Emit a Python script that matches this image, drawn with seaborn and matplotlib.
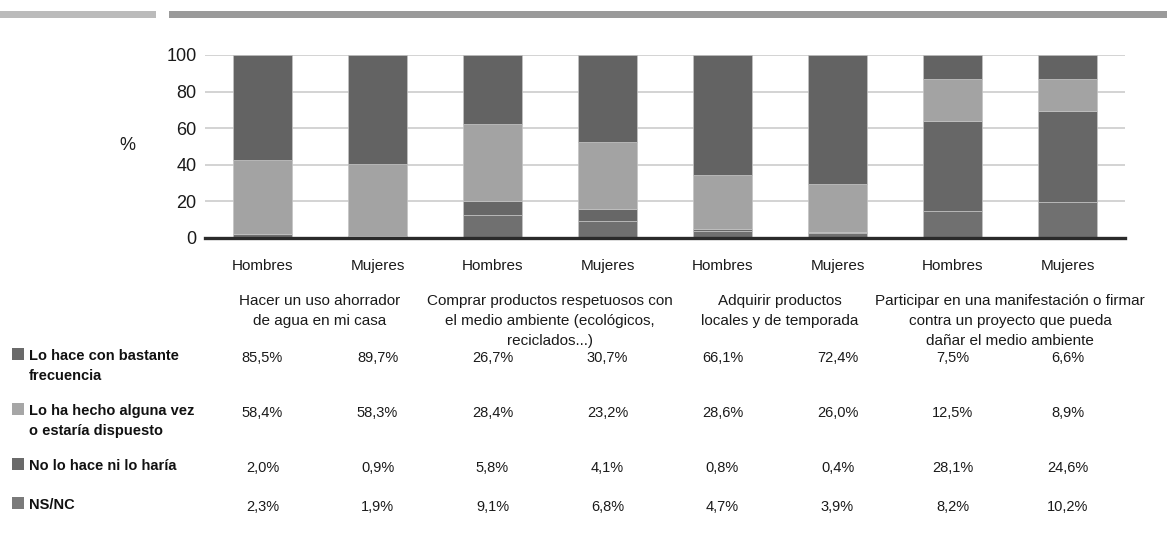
import matplotlib
matplotlib.use("Agg")
import matplotlib.pyplot as plt
import matplotlib.transforms as mtransforms
from matplotlib.patches import Rectangle
import numpy as np
import pandas as pd
import seaborn as sns

# bars (x axis labels)
sexes = ["Hombres", "Mujeres", "Hombres", "Mujeres", "Hombres", "Mujeres", "Hombres", "Mujeres"]

# stacked segments, bottom to top
seg_nsnc = [2.0, 0.0, 12.4, 9.5, 4.0, 2.7, 14.6, 19.4]
seg_no = [0.0, 0.9, 7.7, 6.2, 0.8, 0.4, 49.3, 49.8]
seg_alguna = [40.5, 39.4, 42.1, 36.5, 29.4, 26.3, 22.8, 17.5]
seg_frecuencia = [57.5, 59.7, 37.8, 47.8, 65.8, 70.6, 13.3, 13.3]

# actions (one per pair of bars)
actions = [
    "Hacer un uso ahorrador\nde agua en mi casa",
    "Comprar productos respetuosos con\nel medio ambiente (ecológicos,\nreciclados...)",
    "Adquirir productos\nlocales y de temporada",
    "Participar en una manifestación o firmar\ncontra un proyecto que pueda\ndañar el medio ambiente",
]

# data table below the chart
row_labels = [
    "Lo hace con bastante\nfrecuencia",
    "Lo ha hecho alguna vez\no estaría dispuesto",
    "No lo hace ni lo haría",
    "NS/NC",
]
tab_frecuencia = ["85,5%", "89,7%", "26,7%", "30,7%", "66,1%", "72,4%", "7,5%", "6,6%"]
tab_alguna = ["58,4%", "58,3%", "28,4%", "23,2%", "28,6%", "26,0%", "12,5%", "8,9%"]
tab_no = ["2,0%", "0,9%", "5,8%", "4,1%", "0,8%", "0,4%", "28,1%", "24,6%"]
tab_nsnc = ["2,3%", "1,9%", "9,1%", "6,8%", "4,7%", "3,9%", "8,2%", "10,2%"]

W, H = 1167, 534
sns.set_style("white")
plt.rcParams["font.family"] = ["Liberation Sans", "DejaVu Sans"]

fig = plt.figure(figsize=(W / 100, H / 100), dpi=100)
ax = fig.add_axes([205 / W, 1 - 238 / H, 920 / W, 183 / H])

df = pd.DataFrame({
    "pos": np.arange(len(sexes)),
    "nsnc": seg_nsnc,
    "no": seg_no,
    "alguna": seg_alguna,
    "frecuencia": seg_frecuencia,
})

layers = [("nsnc", "#707070"), ("no", "#676767"), ("alguna", "#a3a3a3"), ("frecuencia", "#636363")]
bottom = np.zeros(len(df))
for col, color in layers:
    sns.barplot(data=df, x="pos", y=col, bottom=bottom, color=color, width=0.52,
                edgecolor="#c4c4c4", linewidth=0.5, saturation=1, ax=ax, zorder=3,
                native_scale=True)
    bottom = bottom + df[col].values

ax.set_xlim(-0.5, len(sexes) - 0.5)
ax.set_ylim(0, 100)
ax.set_yticks([0, 20, 40, 60, 80, 100])
ax.set_yticklabels(["0", "20", "40", "60", "80", "100"], fontsize=13, color="#1a1a1a")
ax.set_xticks(np.arange(len(sexes)))
ax.set_xticklabels(sexes, fontsize=11, color="#1a1a1a")
ax.tick_params(axis="y", length=0, pad=6)
ax.tick_params(axis="x", length=0, pad=15)
ax.set_xlabel("")
ax.set_ylabel("")
for s in ["top", "right", "left"]:
    ax.spines[s].set_visible(False)
ax.spines["bottom"].set_color("#2b2b2b")
ax.spines["bottom"].set_linewidth(2.4)
ax.spines["bottom"].set_zorder(4)
ax.yaxis.grid(True, color="#cccccc", linewidth=1.2, zorder=0)
ax.set_axisbelow(True)

fig.text(127 / W, 1 - 146 / H, "%", fontsize=13, ha="center", va="center", color="#1a1a1a")

# header bars
fig.add_artist(Rectangle((0, 1 - 18 / H), 156 / W, 7 / H, transform=fig.transFigure,
                         color="#bbbbbb", lw=0))
fig.add_artist(Rectangle((169 / W, 1 - 18 / H), 1 - 169 / W, 7 / H, transform=fig.transFigure,
                         color="#9a9a9a", lw=0))

trans = mtransforms.blended_transform_factory(ax.transData, fig.transFigure)

# action titles over each pair
for i, txt in enumerate(actions):
    ax.text(2 * i + 0.5, 1 - 294 / H, txt, transform=trans, ha="center", va="top",
            fontsize=11, linespacing=1.55, color="#1a1a1a")

# table rows
rows = [tab_frecuencia, tab_alguna, tab_no, tab_nsnc]
row_y = [357, 412, 467, 506]
row_colors = ["#6a6a6a", "#a6a6a6", "#6a6a6a", "#7a7a7a"]
for label, vals, y, c in zip(row_labels, rows, row_y, row_colors):
    fig.add_artist(Rectangle((12 / W, 1 - (y + 3) / H), 12 / W, 12 / H,
                             transform=fig.transFigure, color=c, lw=0))
    fig.text(29 / W, 1 - (y - 8) / H, label, fontsize=10.5, fontweight="bold",
             ha="left", va="top", linespacing=1.5, color="#111111")
    for j, v in enumerate(vals):
        ax.text(j, 1 - (y + 1) / H, v, transform=trans, ha="center", va="center",
                fontsize=10.5, color="#1a1a1a")

fig.savefig("out.png", dpi=100)
